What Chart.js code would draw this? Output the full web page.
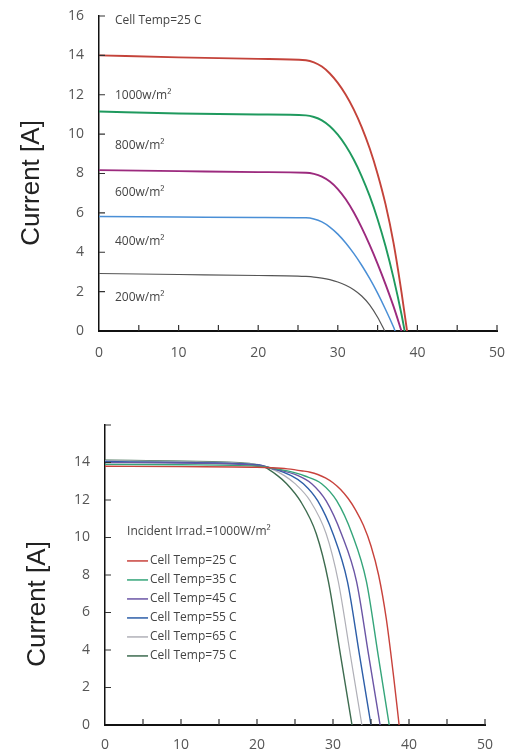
<!DOCTYPE html>
<html>
<head>
<meta charset="utf-8">
<script src="https://cdn.jsdelivr.net/npm/chart.js@4.4.1/dist/chart.umd.min.js"></script>
<style>
  html, body { margin: 0; padding: 0; background: #fff; }
  #top { position: absolute; left: 0; top: 0; width: 524px; height: 372px; }
  #bot { position: absolute; left: 0; top: 390px; width: 524px; height: 364px; }
</style>
</head>
<body>
<div id="top"><canvas id="irrChart"></canvas></div>
<div id="bot"><canvas id="tempChart"></canvas></div>
<script>
// --- top chart: I-V curves at 25 C for several irradiance levels ---
const irrLabels = ['1000w/m²', '800w/m²', '600w/m²', '400w/m²', '200w/m²'];

const v1000 = [0, 10, 20, 26, 27, 28, 29, 30, 31, 32, 33, 34, 35, 36, 37, 38, 38.7];
const i1000 = [14.0, 13.9, 13.82, 13.75, 13.65, 13.43, 13.08, 12.6, 12.0, 11.26, 10.36, 9.28, 7.98, 6.43, 4.48, 1.98, 0];

const v800 = [0, 10, 20, 26, 27, 28, 29, 30, 31, 32, 33, 34, 35, 36, 37, 38, 38.4];
const i800 = [11.15, 11.05, 11.0, 10.95, 10.87, 10.7, 10.4, 9.97, 9.41, 8.71, 7.86, 6.86, 5.68, 4.3, 2.7, 0.85, 0];

const v600 = [0, 10, 20, 26, 27, 28, 29, 30, 31, 32, 33, 34, 35, 36, 37, 38];
const i600 = [8.17, 8.12, 8.07, 8.04, 7.98, 7.84, 7.59, 7.21, 6.69, 6.03, 5.25, 4.37, 3.41, 2.37, 1.25, 0];

const v400 = [0, 10, 20, 26, 27, 28, 29, 30, 31, 32, 33, 34, 35, 36, 37, 37.2];
const i400 = [5.81, 5.79, 5.77, 5.75, 5.69, 5.54, 5.28, 4.92, 4.47, 3.94, 3.34, 2.67, 1.92, 1.09, 0.2, 0];

const v200 = [0, 10, 20, 25, 26, 27, 28, 29, 30, 31, 32, 33, 34, 35, 35.9];
const i200 = [2.92, 2.87, 2.82, 2.79, 2.77, 2.74, 2.69, 2.61, 2.49, 2.32, 2.1, 1.78, 1.33, 0.7, 0];

// --- bottom chart: I-V curves at 1000 W/m2 for several cell temperatures ---
const tempLabels = ['Cell Temp=25 C', 'Cell Temp=35 C', 'Cell Temp=45 C',
                    'Cell Temp=55 C', 'Cell Temp=65 C', 'Cell Temp=75 C'];

const vT25 = [0, 10, 20, 22, 24, 26, 27, 28, 29, 30, 31, 32, 33, 34, 35, 36, 37, 38, 38.7];
const iT25 = [13.8, 13.78, 13.75, 13.72, 13.66, 13.55, 13.48, 13.36, 13.18, 12.92, 12.56, 12.08, 11.45, 10.65, 9.55, 8.0, 5.7, 2.5, 0];

const vT35 = [0, 10, 20, 22, 24, 26.3, 28.5, 30.5, 32.5, 34.4, 35.95, 37.4];
const iT35 = [13.9, 13.88, 13.8, 13.7, 13.55, 13.28, 12.87, 11.95, 10.2, 7.65, 3.7, 0];

const vT45 = [0, 10, 20, 22, 25.4, 27.2, 29.1, 31.1, 33.1, 34.7, 36.2];
const iT45 = [14.0, 13.97, 13.85, 13.68, 13.3, 12.87, 11.95, 10.2, 7.65, 3.7, 0];

const vT55 = [0, 10, 20, 22, 24.5, 26.1, 28.0, 30.0, 31.9, 33.5, 35.0];
const iT55 = [14.05, 14.0, 13.88, 13.68, 13.3, 12.87, 11.95, 10.2, 7.65, 3.7, 0];

const vT65 = [0, 10, 20, 21.7, 23.6, 25.0, 27.0, 29.1, 30.7, 32.3, 33.8];
const iT65 = [14.1, 14.05, 13.9, 13.7, 13.3, 12.87, 11.95, 10.2, 7.65, 3.7, 0];

const vT75 = [0, 10, 19, 21, 22.7, 23.9, 25.7, 27.8, 29.4, 31.0, 32.5];
const iT75 = [14.12, 14.07, 13.95, 13.75, 13.3, 12.87, 11.95, 10.2, 7.65, 3.7, 0];

const pts = (xs, ys) => xs.map((v, i) => ({ x: v, y: ys[i] }));

function curve(label, xs, ys, color, width) {
  return {
    label: label,
    data: pts(xs, ys),
    borderColor: color,
    borderWidth: width,
    pointRadius: 0,
    fill: false,
    cubicInterpolationMode: 'monotone'
  };
}

// small inward tick marks on both axes
const innerTicks = {
  id: 'innerTicks',
  afterDraw(chart) {
    const { ctx, chartArea: a, scales: { x, y } } = chart;
    ctx.save();
    ctx.strokeStyle = '#333';
    ctx.lineWidth = 1.2;
    ctx.beginPath();
    x.ticks.forEach(t => {
      if (t.value === 0) return;
      const px = x.getPixelForValue(t.value);
      ctx.moveTo(px, a.bottom);
      ctx.lineTo(px, a.bottom - 6);
    });
    y.ticks.forEach(t => {
      if (t.value === 0) return;
      const py = y.getPixelForValue(t.value);
      ctx.moveTo(a.left, py);
      ctx.lineTo(a.left + 6, py);
    });
    ctx.stroke();
    ctx.restore();
  }
};

// free text notes placed at data coordinates
const notes = {
  id: 'notes',
  afterDraw(chart, args, opts) {
    const { ctx, scales: { x, y } } = chart;
    ctx.save();
    ctx.font = '12px "Open Sans"';
    ctx.fillStyle = '#444';
    ctx.textBaseline = 'middle';
    ctx.textAlign = 'left';
    (opts.items || []).forEach(n => {
      ctx.fillText(n.text, x.getPixelForValue(n.x), y.getPixelForValue(n.y));
    });
    ctx.restore();
  }
};

// hand drawn legend inside the plot (bottom chart)
const innerLegend = {
  id: 'innerLegend',
  afterDraw(chart, args, opts) {
    if (!opts.show) return;
    const { ctx, scales: { x, y } } = chart;
    const x0 = x.getPixelForValue(opts.x);
    let yy = y.getPixelForValue(opts.y);
    ctx.save();
    ctx.font = '12px "Open Sans"';
    ctx.textBaseline = 'middle';
    ctx.textAlign = 'left';
    chart.data.datasets.forEach(ds => {
      ctx.strokeStyle = ds.borderColor;
      ctx.lineWidth = 1.5;
      ctx.beginPath();
      ctx.moveTo(x0, yy);
      ctx.lineTo(x0 + 21, yy);
      ctx.stroke();
      ctx.fillStyle = '#444';
      ctx.fillText(ds.label, x0 + 23, yy);
      yy += opts.gap;
    });
    ctx.restore();
  }
};

// rotated y axis title
const yTitle = {
  id: 'yTitle',
  afterDraw(chart, args, opts) {
    const { ctx } = chart;
    ctx.save();
    ctx.translate(opts.x, opts.y);
    ctx.rotate(-Math.PI / 2);
    ctx.font = '26px "Liberation Sans", Arial, sans-serif';
    ctx.fillStyle = '#222';
    ctx.textAlign = 'center';
    ctx.textBaseline = 'middle';
    ctx.fillText('Current [A]', 0, 0);
    ctx.restore();
  }
};

function baseOptions(c) {
  return {
    responsive: true,
    maintainAspectRatio: false,
    animation: false,
    layout: { padding: { top: c.padTop, right: c.padRight, left: 0, bottom: 0 } },
    plugins: {
      legend: { display: false },
      tooltip: { enabled: false },
      notes: { items: c.notes },
      innerLegend: c.legend || { show: false },
      yTitle: c.title
    },
    scales: {
      x: {
        type: 'linear',
        min: 0,
        max: 50,
        grid: { display: false, drawTicks: false },
        border: { display: true, color: '#111', width: 2 },
        ticks: {
          stepSize: 5,
          autoSkip: false,
          maxRotation: 0,
          padding: c.xPad,
          color: '#555',
          font: { family: 'Open Sans', size: 14 },
          callback: v => (v % 10 === 0 ? v : '')
        },
        afterFit: s => { s.height = c.xHeight; }
      },
      y: {
        type: 'linear',
        min: 0,
        max: 16,
        grid: { display: false, drawTicks: false },
        border: { display: true, color: '#111', width: 1.5 },
        ticks: {
          stepSize: 2,
          padding: 15,
          color: '#555',
          font: { family: 'Open Sans', size: 14 },
          callback: v => (c.hideTop && v === 16 ? '' : v)
        },
        afterFit: s => {
          s.width = c.yWidth;
          s.paddingTop = 8; // label padding must not push the plot down
        }
      }
    }
  };
}

new Chart(document.getElementById('irrChart'), {
  type: 'line',
  data: {
    datasets: [
      curve(irrLabels[0], v1000, i1000, '#c4433a', 1.9),
      curve(irrLabels[1], v800, i800, '#1f9a5e', 1.9),
      curve(irrLabels[2], v600, i600, '#9c2a7e', 1.9),
      curve(irrLabels[3], v400, i400, '#4a8fd6', 1.5),
      curve(irrLabels[4], v200, i200, '#555555', 1.2)
    ]
  },
  options: baseOptions({
    padTop: 16, padRight: 27, xHeight: 41, yWidth: 99, xPad: 14,
    title: { x: 32, y: 183 },
    notes: [
      { text: 'Cell Temp=25 C', x: 2.0, y: 15.75 },
      { text: irrLabels[0], x: 2.0, y: 11.97 },
      { text: irrLabels[1], x: 2.0, y: 9.43 },
      { text: irrLabels[2], x: 2.0, y: 7.03 },
      { text: irrLabels[3], x: 2.0, y: 4.53 },
      { text: irrLabels[4], x: 2.0, y: 1.68 }
    ]
  }),
  plugins: [innerTicks, notes, yTitle]
});

new Chart(document.getElementById('tempChart'), {
  type: 'line',
  data: {
    datasets: [
      curve(tempLabels[0], vT25, iT25, '#c8423c', 1.4),
      curve(tempLabels[1], vT35, iT35, '#35a57a', 1.4),
      curve(tempLabels[2], vT45, iT45, '#6b55a5', 1.4),
      curve(tempLabels[3], vT55, iT55, '#2d5ea8', 1.4),
      curve(tempLabels[4], vT65, iT65, '#b0b0b8', 1.2),
      curve(tempLabels[5], vT75, iT75, '#3d6b4f', 1.4)
    ]
  },
  options: baseOptions({
    padTop: 35, padRight: 39, xHeight: 29, yWidth: 105, xPad: 12, hideTop: true,
    title: { x: 38, y: 214 },
    notes: [{ text: 'Incident Irrad.=1000W/m²', x: 2.9, y: 10.3 }],
    legend: { show: true, x: 2.9, y: 8.75, gap: 19 }
  }),
  plugins: [innerTicks, notes, innerLegend, yTitle]
});
</script>
</body>
</html>
